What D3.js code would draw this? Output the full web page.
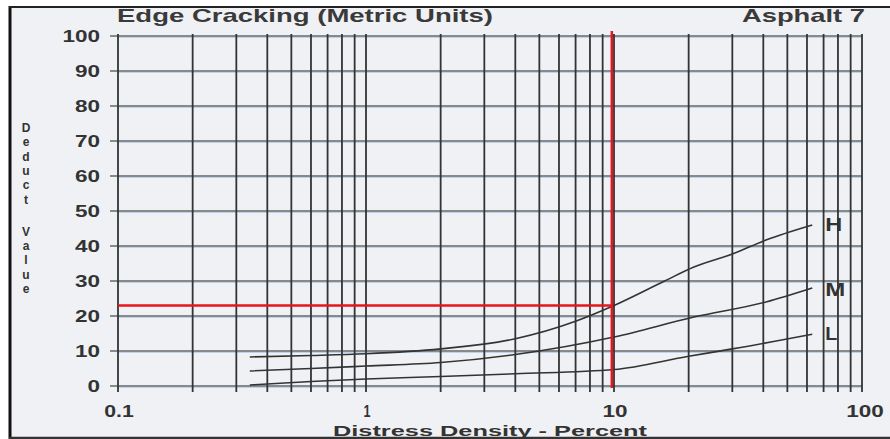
<!DOCTYPE html>
<html>
<head>
<meta charset="utf-8">
<script src="https://cdn.jsdelivr.net/npm/d3@7"></script>
<style>
    body { margin: 0; background: #ffffff; }
    svg text { font-family: "Liberation Sans", Arial, sans-serif; font-weight: bold; fill: #333; }
</style>
</head>
<body>
<svg id="chart" width="890" height="439"></svg>
<script>
'use strict';

// chart data
var xTickLabels = [0.1, 1, 10, 100];
var yTickLabels = [0, 10, 20, 30, 40, 50, 60, 70, 80, 90, 100];
var severities = ['H', 'M', 'L'];

var densityH = [0.34, 0.6, 1, 2, 4, 7, 10, 16, 21, 30, 41, 63];
var deductH  = [8.3, 8.7, 9.2, 10.6, 13.5, 18.5, 23, 30, 34, 37.7, 41.7, 46];
var densityM = [0.34, 0.6, 1, 2, 4, 10, 21, 41, 63];
var deductM  = [4.3, 5, 5.7, 6.7, 9, 14, 19.7, 24, 28];
var densityL = [0.34, 0.6, 1, 2, 4, 10, 20, 30, 63];
var deductL  = [0.3, 1.3, 2, 2.7, 3.5, 4.7, 8.5, 10.6, 14.8];

// example reading
var readDensity = 9.8;
var readDeduct = 23;

var svg = d3.select('#chart');

var x = d3.scaleLog().domain([0.1, 100]).range([118, 862]);
var y = d3.scaleLinear().domain([0, 100]).range([386, 36]);

// the scanned font is a wide grotesque, so numbers get stretched
function numberWidth (s) {
    var w = 0;
    String(s).split('').forEach(function (ch) {
        w += ch === '.' ? 4.5 : 12.5;
    });
    return w;
}

// page background and frame
svg.append('rect')
    .attr('x', 10).attr('y', 7)
    .attr('width', 890).attr('height', 430)
    .attr('fill', '#eff1f4');
svg.append('line')
    .attr('x1', 10).attr('x2', 10).attr('y1', 6).attr('y2', 439)
    .attr('stroke', '#111').attr('stroke-width', 3);
svg.append('line')
    .attr('x1', 9).attr('x2', 890).attr('y1', 7).attr('y2', 7)
    .attr('stroke', '#222').attr('stroke-width', 2);
svg.append('line')
    .attr('x1', 9).attr('x2', 890).attr('y1', 438).attr('y2', 438)
    .attr('stroke', '#333').attr('stroke-width', 2.5);

// horizontal grid
var hGrid = svg.append('g');
hGrid.selectAll('line.h')
    .data(yTickLabels)
    .enter().append('line')
    .attr('x1', x(0.1) - 8)
    .attr('x2', x(100))
    .attr('y1', function (d) { return y(d); })
    .attr('y2', function (d) { return y(d); })
    .attr('stroke', '#666')
    .attr('stroke-width', 1.3);
hGrid.selectAll('line.tint')
    .data(yTickLabels)
    .enter().append('line')
    .attr('x1', x(0.1))
    .attr('x2', x(100))
    .attr('y1', function (d) { return y(d) + 1.5; })
    .attr('y2', function (d) { return y(d) + 1.5; })
    .attr('stroke', '#bcd3ee')
    .attr('stroke-width', 1);

// vertical log grid
var vValues = [];
[0.1, 1, 10].forEach(function (dec) {
    for (var k = 1; k <= 9; k++) {
        vValues.push(dec * k);
    }
});
vValues.push(100);

svg.append('g').selectAll('line')
    .data(vValues)
    .enter().append('line')
    .attr('x1', function (d) { return x(d); })
    .attr('x2', function (d) { return x(d); })
    .attr('y1', y(100) - 2)
    .attr('y2', y(0) + 6)
    .attr('stroke', '#333')
    .attr('stroke-width', 1.8);

// y axis labels
svg.append('g').selectAll('text')
    .data(yTickLabels)
    .enter().append('text')
    .attr('x', 100)
    .attr('y', function (d) { return y(d) + 6; })
    .attr('text-anchor', 'end')
    .attr('textLength', function (d) { return numberWidth(d); })
    .attr('lengthAdjust', 'spacingAndGlyphs')
    .style('font-size', '16px')
    .text(function (d) { return d; });

// x axis labels
svg.append('g').selectAll('text')
    .data(xTickLabels)
    .enter().append('text')
    .attr('x', function (d) { return x(d) + (d === 100 ? 3 : 1); })
    .attr('y', 417)
    .attr('text-anchor', 'middle')
    .attr('textLength', function (d) { return d === 1 ? 7 : numberWidth(d); })
    .attr('lengthAdjust', 'spacingAndGlyphs')
    .style('font-size', '16px')
    .text(function (d) { return d; });

// titles
svg.append('text')
    .attr('x', 117).attr('y', 22)
    .attr('textLength', 376)
    .attr('lengthAdjust', 'spacingAndGlyphs')
    .style('font-size', '19px')
    .style('fill', '#3a3a3a')
    .text('Edge Cracking (Metric Units)');
svg.append('text')
    .attr('x', 742).attr('y', 22)
    .attr('textLength', 123)
    .attr('lengthAdjust', 'spacingAndGlyphs')
    .style('font-size', '19px')
    .style('fill', '#3a3a3a')
    .text('Asphalt 7');
svg.append('text')
    .attr('x', 333).attr('y', 436)
    .attr('textLength', 314)
    .attr('lengthAdjust', 'spacingAndGlyphs')
    .style('font-size', '15px')
    .text('Distress Density - Percent');

// vertical stacked y title, one letter per row
var yTitle = 'Deduct Value'.split('');
svg.append('g').selectAll('text')
    .data(yTitle.filter(function (d) { return d !== ' '; }))
    .enter().append('text')
    .attr('x', 26)
    .attr('y', function (d, i) { return 132 + i * 14.3 + (i > 5 ? 18 : 0); })
    .attr('text-anchor', 'middle')
    .style('font-size', '12px')
    .text(function (d) { return d; });

// curves
var curves = [
    { name: 'H', xs: densityH, ys: deductH, w: 17 },
    { name: 'M', xs: densityM, ys: deductM, w: 20 },
    { name: 'L', xs: densityL, ys: deductL, w: 12 }
];

var line = d3.line()
    .x(function (d) { return x(d[0]); })
    .y(function (d) { return y(d[1]); })
    .curve(d3.curveMonotoneX);

svg.append('g').selectAll('path')
    .data(curves)
    .enter().append('path')
    .attr('d', function (c) { return line(d3.zip(c.xs, c.ys)); })
    .attr('fill', 'none')
    .attr('stroke', '#333')
    .attr('stroke-width', 1.6);

svg.append('g').selectAll('text')
    .data(curves)
    .enter().append('text')
    .attr('x', x(63) + 13)
    .attr('y', function (c) { return y(c.ys[c.ys.length - 1]) + (c.name === 'M' ? 8 : 6); })
    .attr('textLength', function (c) { return c.w; })
    .attr('lengthAdjust', 'spacingAndGlyphs')
    .style('font-size', '18px')
    .text(function (c) { return c.name; });

// red reading lines
svg.append('line')
    .attr('x1', x(0.1)).attr('x2', x(readDensity))
    .attr('y1', y(readDeduct)).attr('y2', y(readDeduct))
    .attr('stroke', '#e8141c').attr('stroke-width', 2.5);
svg.append('line')
    .attr('x1', x(readDensity)).attr('x2', x(readDensity))
    .attr('y1', 31).attr('y2', y(0) + 2)
    .attr('stroke', '#e8141c').attr('stroke-width', 2.5);
</script>
</body>
</html>
